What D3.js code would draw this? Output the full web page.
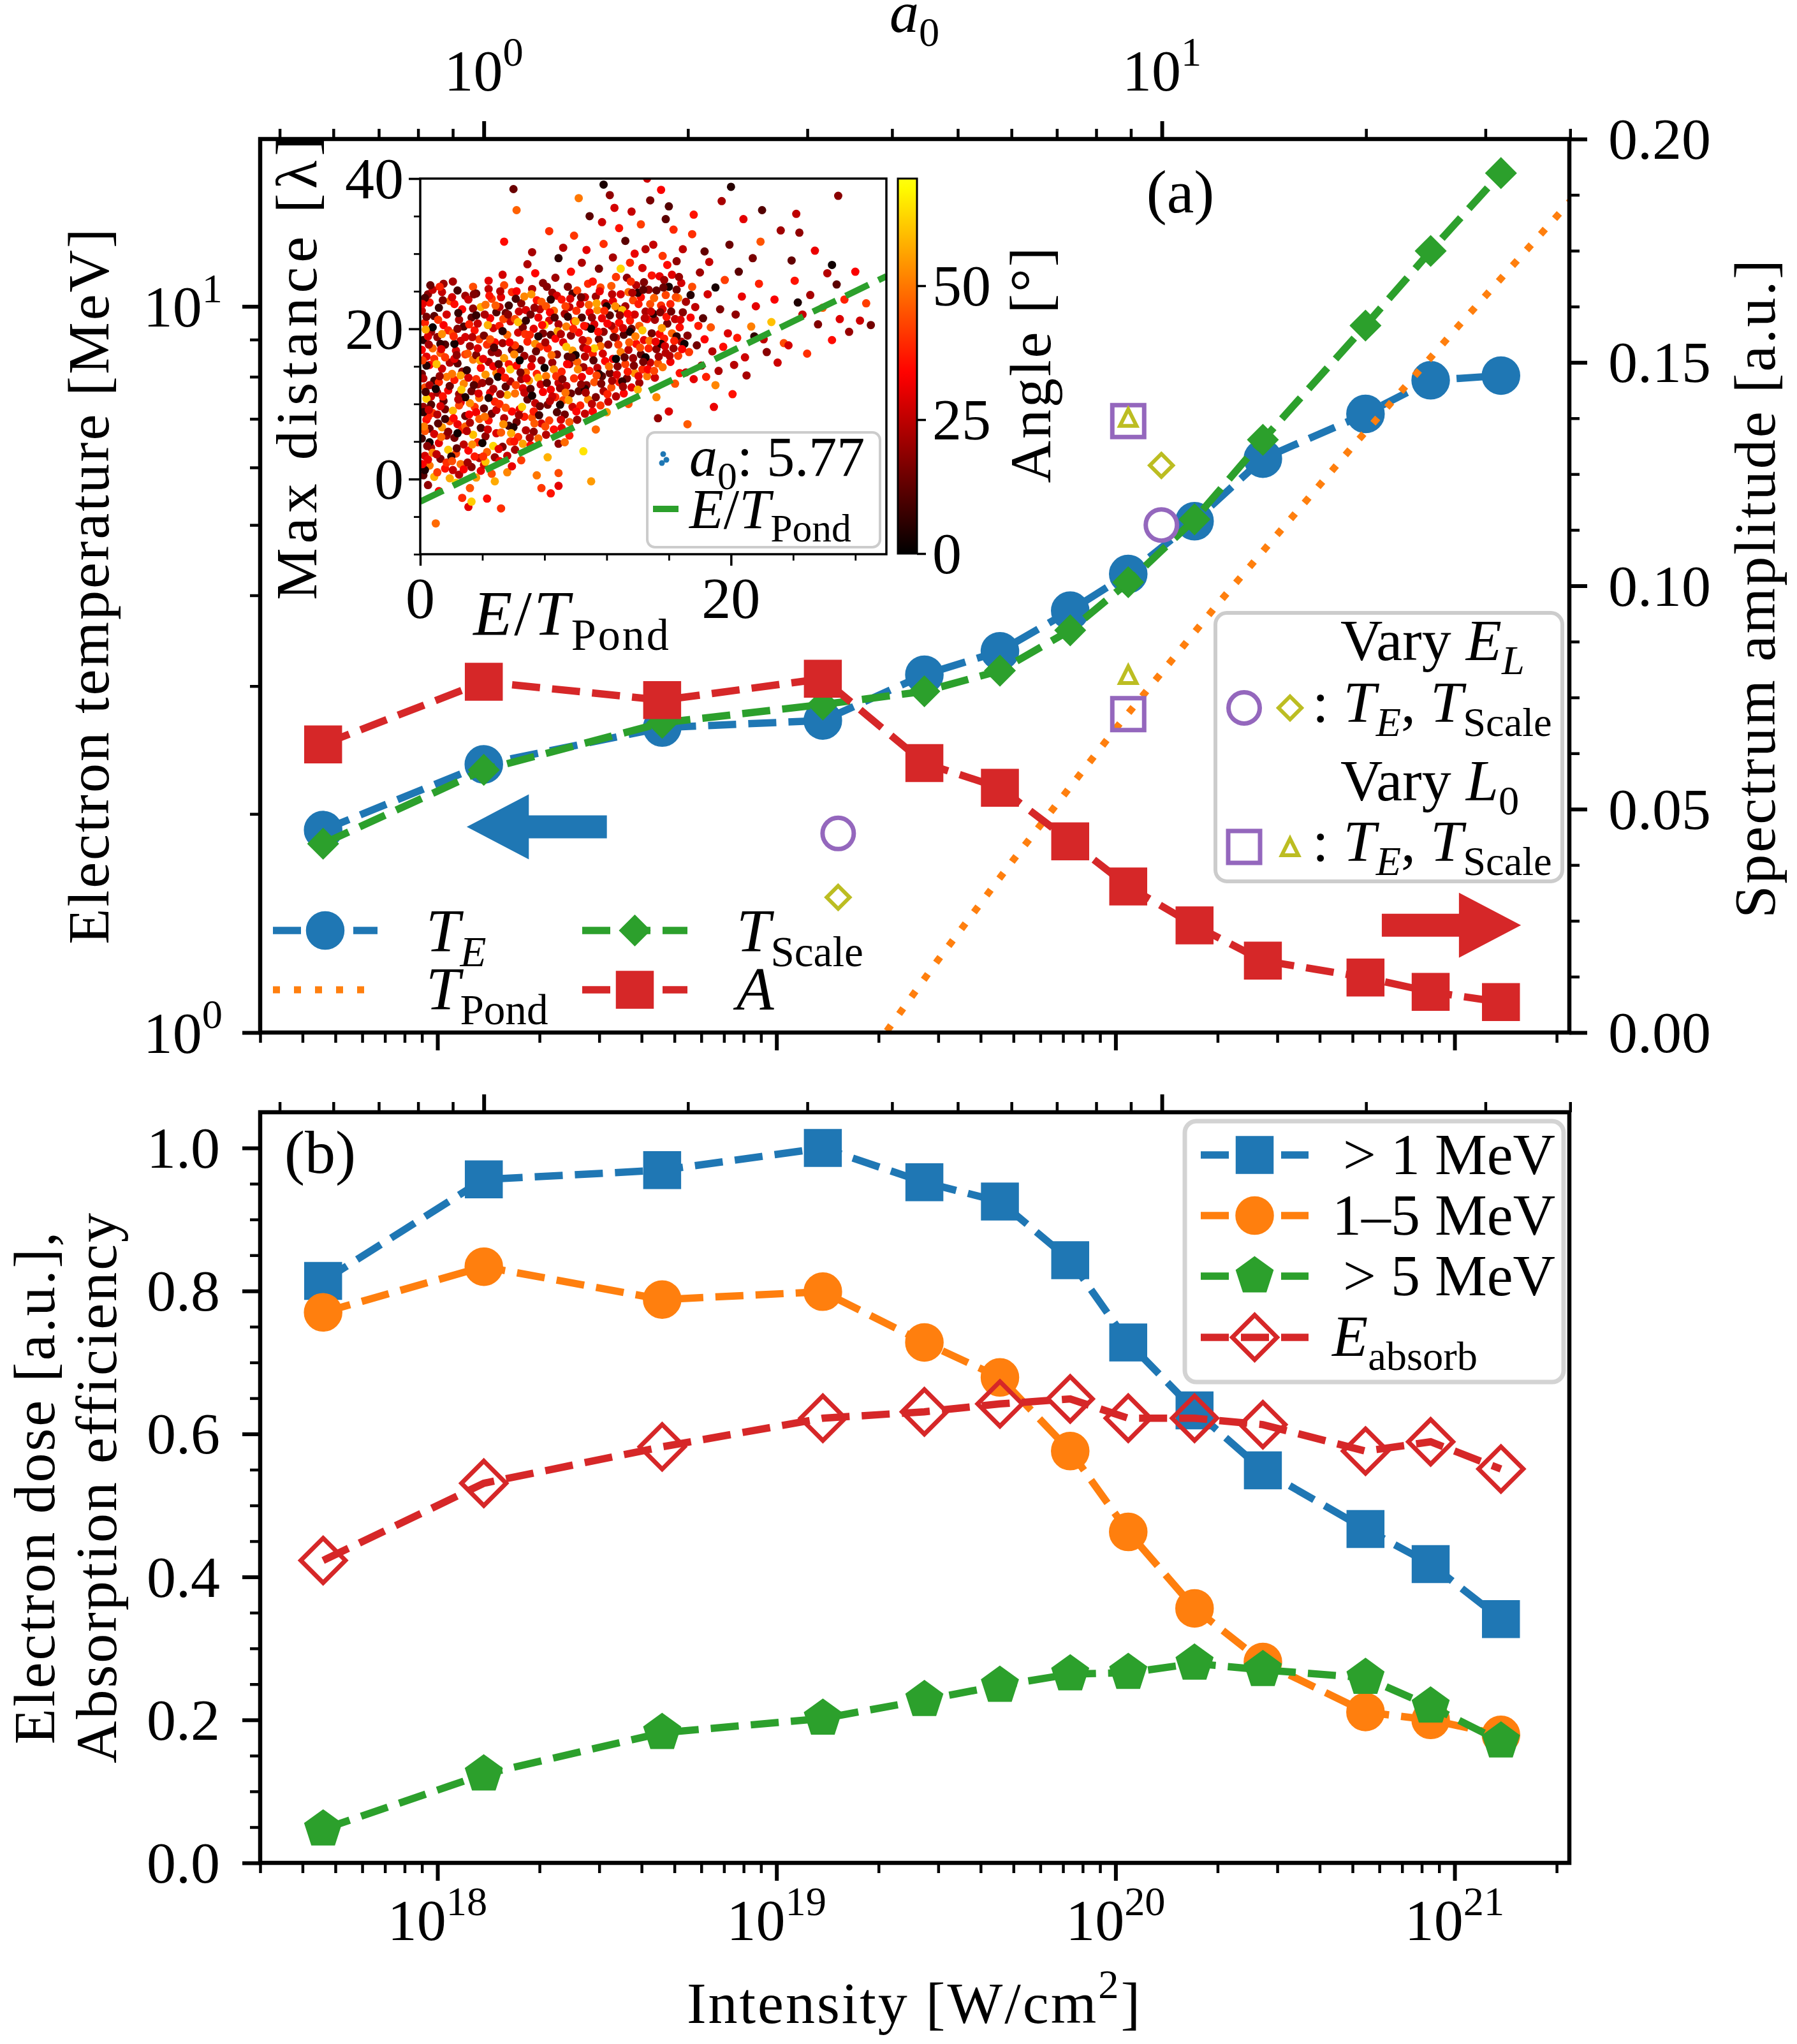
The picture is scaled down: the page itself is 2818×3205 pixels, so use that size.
<!DOCTYPE html>
<html>
<head>
<meta charset="utf-8">
<script src="https://cdn.jsdelivr.net/npm/d3@7"></script>
<style>
html,body{margin:0;padding:0;background:#fff;}
svg{display:block;}
text{font-family:"Liberation Serif","Times New Roman",serif;fill:#000;}
</style>
</head>
<body>
<svg id="fig" width="2818" height="3205" xmlns="http://www.w3.org/2000/svg"></svg>
<script>
// ================= DATA =================
const intensity   = [4.6e17, 1.37e18, 4.6e18, 1.37e19, 2.73e19, 4.56e19, 7.35e19, 1.09e20, 1.71e20, 2.72e20, 5.46e20, 8.5e20, 1.37e21];
const tempTE      = [1.90, 2.34, 2.63, 2.69, 3.11, 3.35, 3.81, 4.28, 5.06, 6.17, 7.11, 7.91, 8.03];
const tempTScale  = [1.82, 2.30, 2.67, 2.83, 2.95, 3.15, 3.58, 4.17, 5.09, 6.55, 9.41, 11.92, 15.26];
const spectrumA   = [0.0645, 0.0785, 0.0744, 0.0792, 0.0603, 0.0548, 0.0428, 0.0327, 0.0240, 0.0161, 0.0123, 0.0091, 0.0068];
const pondIntensity = [1.8e19, 2.1e19, 3e19, 5e19, 1e20, 2e20, 5e20, 1e21, 2.2e21];
const pondT         = [0.90, 1.00, 1.26, 1.73, 2.62, 3.89, 6.41, 9.27, 13.98];
const varyELIntensity = [1.52e19, 1.365e20];
const varyELTE        = [1.88, 5.00];
const varyELTScale    = [1.535, 6.04];
const varyL0Intensity = [1.09e20, 1.09e20];
const varyL0TE        = [2.745, 6.95];
const varyL0TScale    = [3.11, 7.03];

const doseAbove1 = [0.814, 0.956, 0.969, 1.000, 0.952, 0.925, 0.843, 0.728, 0.633, 0.549, 0.467, 0.418, 0.341];
const dose1to5   = [0.770, 0.834, 0.788, 0.799, 0.728, 0.679, 0.576, 0.463, 0.356, 0.281, 0.211, 0.200, 0.179];
const doseAbove5 = [0.047, 0.124, 0.182, 0.202, 0.228, 0.248, 0.264, 0.266, 0.279, 0.270, 0.259, 0.219, 0.170];
const eAbsorb    = [0.423, 0.531, 0.582, 0.622, 0.631, 0.642, 0.649, 0.622, 0.622, 0.613, 0.576, 0.589, 0.551];

// arrows (intensity, temperature)
const arrowLeft  = {tip: 1.22e18, base: 1.86e18, tail: 3.16e18, T: 1.92};
const arrowRight = {tip: 1.57e21, base: 1.03e21, tail: 6.1e20, T: 1.405};

// inset: [E/T_pond, max distance, angle]
const insetPoints = [
[0.2,0.5,12],[0.3,3.1,28],[0.1,5.4,8],[0.4,7.9,35],[0.2,9.6,20],[0.3,12.2,44],[0.1,14.0,15],[0.4,16.3,30],[0.2,18.5,6],[0.3,20.8,38],[0.1,22.4,25],[0.5,24.6,18],[0.6,1.8,50],[0.7,4.2,22],[0.6,6.7,14],[0.8,8.8,41],[0.7,11.0,27],[0.9,13.1,9],[0.6,15.2,33],[0.8,17.4,48],[0.7,19.6,21],[0.9,21.7,12],[0.6,23.5,36],[0.8,25.2,26],[0.5,-0.8,19],[0.9,0.3,58],[0.4,10.7,62],[0.2,13.4,24],[0.5,2.6,31],[0.3,6.4,45],[0.7,9.9,11],[0.5,19.0,29],[0.9,16.0,40],[0.4,21.6,16],[0.1,17.2,34],[0.8,3.5,52],[0.6,12.5,23],[0.3,24.1,10],[0.5,8.3,37],[0.9,6.0,28],
[1.1,0.9,42],[1.3,2.7,17],[1.2,4.8,30],[1.4,6.9,55],[1.1,8.6,24],[1.5,10.4,13],[1.2,12.9,39],[1.4,14.7,27],[1.3,16.8,46],[1.1,18.9,19],[1.5,20.5,33],[1.2,22.8,8],[1.4,24.9,26],[1.6,1.4,36],[1.8,3.9,61],[1.7,5.8,21],[1.9,7.7,44],[1.6,9.3,15],[1.8,11.8,32],[1.7,13.6,50],[1.9,15.5,23],[1.6,17.9,11],[1.8,19.8,38],[1.7,21.9,28],[1.9,23.7,47],[1.5,26.0,20],[1.2,-1.6,34],[1.9,0.1,57],[1.3,9.7,29],[1.6,16.2,41],[1.8,6.3,18],[1.4,19.3,53],[1.1,11.5,22],[1.7,2.2,40],[1.9,12.4,14],[1.0,-5.9,48],
[2.1,1.2,26],[2.3,3.4,43],[2.2,5.5,16],[2.4,7.3,31],[2.1,9.1,59],[2.5,11.3,20],[2.2,13.2,37],[2.4,15.4,12],[2.3,17.1,28],[2.1,19.4,45],[2.5,21.2,23],[2.2,23.3,35],[2.4,25.1,9],[2.6,2.0,49],[2.8,4.6,25],[2.7,6.6,38],[2.9,8.4,14],[2.6,10.2,30],[2.8,12.7,52],[2.7,14.3,19],[2.9,16.6,42],[2.6,18.4,27],[2.8,20.3,10],[2.7,22.6,34],[2.9,24.4,21],[2.3,-0.5,63],[2.7,-2.5,39],[2.5,0.6,24],[2.9,7.0,47],[2.2,16.0,30],[2.6,13.8,56],[2.4,20.0,17],[2.8,1.3,33],[2.1,26.3,22],[2.5,9.8,43],[2.9,18.9,28],
[3.1,-3.7,30],[3.2,-1.2,45],[3.3,1.6,18],[3.1,3.8,34],[3.4,5.9,60],[3.2,7.5,23],[3.5,9.6,41],[3.3,11.7,15],[3.1,13.5,28],[3.4,15.9,50],[3.2,17.7,20],[3.5,19.8,36],[3.3,21.5,12],[3.1,23.9,27],[3.4,25.6,44],[3.6,0.2,55],[3.8,2.8,25],[3.7,4.9,39],[3.9,6.8,11],[3.6,8.9,32],[3.8,10.8,48],[3.7,12.6,21],[3.9,14.8,35],[3.6,16.5,17],[3.8,18.6,42],[3.7,20.7,26],[3.9,22.9,58],[3.6,24.7,14],[3.3,-3.0,62],[3.5,3.0,37],[3.7,17.4,29],[3.2,10.1,53],[3.9,1.1,31],[3.4,22.7,19],[3.8,8.0,46],[3.0,6.4,24],[3.6,13.3,40],
[4.1,1.9,28],[4.3,3.6,47],[4.2,5.7,19],[4.4,7.8,36],[4.1,9.4,13],[4.5,11.5,31],[4.2,13.9,54],[4.4,15.6,22],[4.3,17.9,40],[4.1,19.1,16],[4.5,21.4,33],[4.2,23.2,49],[4.4,25.3,25],[4.6,0.7,44],[4.8,2.9,20],[4.7,4.4,63],[4.9,6.1,29],[4.6,8.7,15],[4.8,10.3,38],[4.7,12.0,24],[4.9,14.1,51],[4.6,16.9,18],[4.8,18.2,35],[4.7,20.1,27],[4.9,22.2,11],[4.6,24.0,42],[4.3,-2.6,35],[4.8,-0.3,57],[4.4,26.4,30],[4.0,12.8,21],[4.5,18.6,45],[4.9,9.2,26],[4.2,2.3,60],[4.7,15.0,32],
[5.1,2.4,33],[5.3,4.3,17],[5.2,6.2,46],[5.4,8.1,24],[5.1,10.0,39],[5.5,12.3,12],[5.2,14.4,29],[5.4,16.1,55],[5.3,18.1,21],[5.1,20.4,37],[5.5,22.1,14],[5.2,24.2,30],[5.4,25.8,43],[5.6,3.1,26],[5.8,5.0,41],[5.7,7.1,10],[5.9,9.0,34],[5.6,11.2,58],[5.8,13.0,23],[5.7,15.3,36],[5.9,17.2,16],[5.6,19.2,48],[5.8,21.0,27],[5.7,23.1,9],[5.9,24.9,39],[5.2,-3.9,40],[5.6,0.9,52],[5.4,31.6,35],[5.3,27.2,28],[5.8,14.6,61],[5.0,16.8,20],[5.5,9.5,45],[5.9,1.7,31],[5.1,22.9,25],
[6.1,3.9,22],[6.3,5.6,40],[6.2,7.6,15],[6.4,9.3,31],[6.1,11.4,49],[6.5,13.3,20],[6.2,15.1,35],[6.4,17.3,11],[6.3,19.5,28],[6.1,21.3,44],[6.5,23.4,19],[6.2,25.0,33],[6.6,4.7,56],[6.8,6.5,24],[6.7,8.3,37],[6.9,10.6,13],[6.6,12.1,30],[6.8,14.2,47],[6.7,16.4,21],[6.9,18.3,38],[6.6,20.2,16],[6.8,22.5,29],[6.7,24.3,52],[6.5,2.5,42],[6.4,26.5,27],[6.9,28.6,23],[6.2,35.8,47],[6.0,38.6,14],[6.3,20.9,60],[6.7,11.5,26],[6.1,17.8,41],
[7.1,4.5,35],[7.3,6.3,19],[7.2,8.2,45],[7.4,10.1,26],[7.1,12.0,12],[7.5,14.0,38],[7.2,16.0,23],[7.4,18.0,53],[7.3,20.0,30],[7.1,21.9,15],[7.5,23.8,36],[7.2,25.3,24],[7.6,5.4,48],[7.8,7.4,28],[7.7,9.7,14],[7.9,11.6,33],[7.6,13.5,59],[7.8,15.8,20],[7.7,17.6,40],[7.9,19.4,17],[7.6,21.5,31],[7.8,23.6,46],[7.5,0.5,50],[7.8,-1.2,41],[7.2,30.2,22],[7.4,27.4,34],[7.9,26.1,18],[7.0,13.1,55],[7.7,22.6,25],[7.3,9.0,37],
[8.1,5.9,24],[8.3,7.8,42],[8.2,9.9,16],[8.4,11.9,32],[8.1,13.7,50],[8.5,15.5,21],[8.2,17.4,37],[8.4,19.2,13],[8.3,21.1,29],[8.1,23.0,45],[8.5,24.8,20],[8.6,6.6,35],[8.8,8.9,11],[8.7,10.9,39],[8.9,12.8,26],[8.6,14.6,54],[8.8,16.6,18],[8.7,18.7,34],[8.9,20.6,23],[8.6,22.4,48],[8.8,24.4,28],[8.2,2.9,58],[8.9,0.8,44],[8.4,-1.9,36],[8.9,-0.9,30],[8.7,26.8,21],[8.3,33.0,40],[8.0,20.5,62],[8.5,11.0,27],[8.9,4.7,19],
[9.1,6.8,31],[9.3,8.6,15],[9.2,10.5,43],[9.4,12.4,25],[9.1,14.3,38],[9.5,16.3,12],[9.2,18.2,29],[9.4,20.3,51],[9.3,22.0,22],[9.1,23.9,36],[9.5,25.6,17],[9.6,7.6,46],[9.8,9.6,27],[9.7,11.4,14],[9.9,13.4,40],[9.6,15.3,23],[9.8,17.1,55],[9.7,19.1,19],[9.9,21.0,33],[9.6,22.9,26],[9.8,24.7,10],[9.3,4.9,48],[9.7,27.6,35],[9.2,30.8,24],[9.9,32.4,41],[9.4,17.6,60],[9.0,12.1,20],[9.6,5.8,37],
[10.1,7.9,20],[10.3,9.8,38],[10.2,11.7,13],[10.4,13.6,31],[10.1,15.6,47],[10.5,17.5,22],[10.2,19.5,35],[10.4,21.5,11],[10.3,23.3,28],[10.1,25.1,42],[10.6,8.7,26],[10.8,10.6,52],[10.7,12.5,18],[10.9,14.4,36],[10.6,16.3,24],[10.8,18.4,44],[10.7,20.3,15],[10.9,22.2,32],[10.6,24.2,27],[10.8,26.0,39],[10.5,3.7,65],[10.4,28.8,23],[10.9,35.0,12],[10.2,37.4,50],[10.7,30.5,30],[10.0,21.0,57],[10.5,14.9,21],
[11.1,9.0,33],[11.3,10.9,17],[11.2,12.9,45],[11.4,14.8,25],[11.1,16.7,38],[11.5,18.6,14],[11.2,20.6,29],[11.4,22.5,53],[11.3,24.3,21],[11.1,26.3,36],[11.6,9.8,41],[11.8,11.7,23],[11.7,13.7,12],[11.9,15.7,34],[11.6,17.7,49],[11.8,19.6,19],[11.7,21.4,31],[11.9,23.4,26],[11.6,25.5,44],[11.5,28.0,16],[11.8,31.3,40],[11.3,6.6,48],[11.0,-0.3,55],[11.7,34.2,27],[11.2,17.4,62],
[12.1,10.3,27],[12.3,12.2,44],[12.2,14.1,15],[12.4,16.0,32],[12.1,17.9,20],[12.5,19.9,39],[12.2,21.8,12],[12.4,23.7,30],[12.3,25.7,46],[12.6,11.0,24],[12.8,12.9,37],[12.7,15.0,18],[12.9,16.9,51],[12.6,18.8,26],[12.8,20.8,35],[12.7,22.7,13],[12.9,24.6,29],[12.6,26.9,41],[12.4,29.5,22],[12.8,33.4,36],[12.2,37.8,19],[12.0,8.9,54],[12.5,36.1,28],[12.9,28.0,63],[12.3,20.4,23],
[13.1,11.4,34],[13.3,13.4,16],[13.2,15.3,42],[13.4,17.2,25],[13.1,19.2,11],[13.5,21.1,37],[13.2,23.0,22],[13.4,24.9,48],[13.3,26.8,19],[13.6,12.2,30],[13.8,14.1,53],[13.7,16.1,21],[13.9,18.0,35],[13.6,20.0,14],[13.8,21.9,28],[13.7,23.8,43],[13.9,25.8,24],[13.5,28.8,39],[13.2,31.7,12],[13.8,30.0,31],[13.4,10.0,45],[13.0,22.5,60],[13.6,35.6,26],
[14.1,12.8,21],[14.3,14.6,39],[14.2,16.6,13],[14.4,18.5,30],[14.1,20.4,46],[14.5,22.3,23],[14.2,24.2,35],[14.4,26.2,17],[14.3,28.1,28],[14.6,13.7,50],[14.8,15.5,26],[14.7,17.4,38],[14.9,19.4,15],[14.6,21.3,32],[14.8,23.3,44],[14.7,25.2,20],[14.9,27.1,36],[14.5,30.6,24],[14.2,33.9,42],[14.8,37.1,16],[14.0,11.9,58],[14.6,40.0,27],[14.3,19.8,61],
[15.1,13.5,27],[15.3,15.4,45],[15.2,17.3,18],[15.4,19.3,34],[15.1,21.2,22],[15.5,23.1,40],[15.2,25.1,13],[15.4,27.0,31],[15.6,14.9,49],[15.8,16.8,24],[15.7,18.7,37],[15.9,20.7,16],[15.6,22.6,29],[15.8,24.5,43],[15.7,26.5,21],[15.9,28.5,35],[15.3,8.1,19],[15.5,38.5,33],[15.0,31.2,26],[15.8,34.6,12],[15.2,10.9,52],[15.6,29.7,41],
[16.1,15.6,32],[16.3,17.4,20],[16.2,19.4,47],[16.4,21.3,26],[16.1,23.3,38],[16.5,25.2,14],[16.2,27.2,30],[16.6,16.4,42],[16.8,18.3,23],[16.7,20.2,35],[16.9,22.2,18],[16.6,24.1,51],[16.8,26.1,28],[16.7,14.1,36],[16.4,12.7,45],[16.0,36.3,11],[16.9,30.6,25],[16.3,33.2,39],[16.5,29.0,19],[16.0,9.0,29],
[17.1,14.2,27],[17.3,16.9,41],[17.2,19.1,18],[17.4,21.5,33],[17.1,23.6,22],[17.5,25.6,44],[17.6,13.3,30],[17.8,17.8,15],[17.9,20.4,37],[17.7,22.9,25],[17.2,7.3,46],[18.1,15.1,20],[18.3,18.6,34],[18.2,21.4,12],[18.5,24.6,28],[18.4,13.6,38],[18.8,17.0,24],[18.7,20.2,45],[18.9,9.6,31],[18.0,27.5,21],[18.3,30.3,13],[17.6,35.2,36],[18.6,28.9,26],[17.5,32.6,40],
[19.2,14.4,23],[19.5,17.6,35],[19.3,22.6,17],[19.8,19.4,29],[19.6,26.5,42],[19.9,31.2,14],[20.2,15.2,24],[20.4,18.8,37],[20.3,21.9,19],[20.7,24.3,31],[20.5,27.6,12],[20.9,16.2,27],[21.0,13.8,22],[21.3,20.3,51],[21.6,23.0,30],[21.4,29.4,16],[21.8,26.0,38],[22.1,18.6,25],[22.3,16.9,18],[22.6,20.9,60],[22.8,23.9,33],[23.0,15.5,27],[23.2,33.1,21],[23.4,18.1,44],[23.7,17.8,28],[23.9,29.1,13],[24.1,26.4,36],[24.4,32.8,19],[24.6,21.9,26],[24.9,16.7,40],[25.1,24.5,22],[25.4,30.4,31],[25.6,20.6,17],[25.9,22.8,46],[26.2,27.4,24],[26.5,18.5,35],[26.8,25.9,12],[27.0,21.3,29],[27.3,23.9,38],[27.6,19.6,20],[28.0,27.6,33],[28.3,21.1,27],[28.7,23.4,42],[29.0,20.5,15],[26.9,37.7,18],[24.2,35.3,25],[22.0,35.8,11],[20.8,34.6,30],[19.4,37.0,22],[21.9,31.6,45],[19.0,12.5,52],[20.1,11.3,36],
[0.3,1.2,4],[0.6,4.9,2],[0.2,8.9,6],[1.0,12.0,3],[0.4,15.1,5],[1.3,18.0,7],[0.8,20.2,1],[2.0,3.0,5],[2.4,6.1,2],[1.6,8.0,8],[2.9,10.9,4],[3.0,14.5,6],[2.2,18.0,3],[3.6,21.8,7],[4.0,4.8,2],[4.4,10.8,5],[5.0,13.6,3],[5.3,19.7,6],[6.0,6.9,4],[6.4,15.8,1],[6.8,21.1,7],[7.2,11.1,3],[7.6,19.0,5],[8.0,14.8,2],[8.4,23.9,6],[9.0,9.9,4],[9.5,21.6,7],[10.0,16.5,3],[10.6,12.0,5],[11.0,20.0,2],[11.5,14.0,6],[12.0,23.0,4],[12.6,16.0,1],[13.0,13.0,7],[13.5,19.6,3],[14.0,24.8,5],[14.5,16.2,2],[15.0,22.0,6],[15.5,18.0,4],[16.0,25.6,3],[16.5,19.0,7],[17.0,18.0,2],[17.4,24.5,5],[19.0,25.5,3],[21.5,19.0,6],[24.3,23.5,4],[26.5,28.5,2],[20.0,38.9,5],[11.8,39.2,3],[8.9,29.4,6],
[0.15,2.0,33],[0.45,4.4,18],[0.25,7.0,51],[0.55,9.2,27],[0.35,11.6,9],[0.15,15.8,42],[0.55,17.9,22],[0.35,19.9,57],[0.15,23.3,30],[0.65,25.8,14],
[1.05,3.3,25],[1.35,5.6,48],[1.15,7.4,12],[1.45,11.0,36],[1.25,13.7,20],[1.05,15.3,60],[1.35,17.3,29],[1.15,21.2,41],[1.45,23.8,16],[1.25,25.6,38],
[2.05,2.4,44],[2.35,4.1,13],[2.15,8.1,35],[2.45,10.6,24],[2.05,14.0,50],[2.35,16.5,19],[2.15,19.0,39],[2.45,22.1,7],[2.05,24.2,28],[2.65,11.9,61],
[3.05,2.2,21],[3.35,4.6,53],[3.15,8.6,33],[3.45,12.5,11],[3.05,16.7,45],[3.35,18.9,24],[3.15,20.6,38],[3.45,24.6,17],[3.75,11.4,29],[3.85,15.8,56],
[4.05,3.0,40],[4.35,6.6,27],[4.15,8.3,49],[4.45,13.0,14],[4.05,16.0,31],[4.35,20.5,58],[4.15,21.9,23],[4.45,24.4,36],[4.75,17.5,10],[4.85,23.1,46],
[5.05,4.0,30],[5.35,7.3,53],[5.15,11.3,20],[5.45,13.5,37],[5.05,15.3,12],[5.35,21.3,43],[5.15,25.0,24],[5.75,18.2,33],[5.85,6.1,57],[5.65,21.9,18],
[6.05,5.0,36],[6.35,8.5,21],[6.15,12.5,43],[6.45,14.2,16],[6.05,16.6,52],[6.35,22.3,27],[6.15,24.0,10],[6.75,19.3,40],[6.85,13.4,30],[6.55,9.6,62],
[7.05,5.5,23],[7.35,7.4,46],[7.15,15.0,31],[7.45,17.0,14],[7.05,19.2,39],[7.35,22.8,20],[7.15,24.6,54],[7.75,12.6,27],[7.85,20.5,35],[7.65,8.5,9],
[8.05,7.0,44],[8.35,10.4,25],[8.15,12.8,13],[8.45,16.5,48],[8.05,18.2,22],[8.35,22.2,34],[8.15,25.6,18],[8.75,13.7,40],[8.85,19.7,56],[8.65,21.5,11],
[9.05,7.9,28],[9.35,11.5,49],[9.15,13.3,17],[9.45,15.3,33],[9.05,19.3,24],[9.35,23.0,42],[9.75,16.2,13],[9.85,20.0,38],[9.65,24.0,29],[9.55,10.5,55],
[10.05,9.0,34],[10.35,12.6,19],[10.15,14.6,52],[10.45,18.5,26],[10.05,22.4,40],[10.35,24.2,15],[10.75,17.3,31],[10.85,23.2,47],[10.65,11.5,22],[10.55,20.4,36],
[11.05,10.0,25],[11.35,13.8,43],[11.15,15.8,12],[11.45,19.6,35],[11.05,21.5,20],[11.35,23.4,56],[11.75,16.7,28],[11.85,22.4,39],[11.65,12.7,17],[11.55,25.0,31],
[12.05,11.3,38],[12.35,13.1,22],[12.15,15.0,48],[12.45,18.9,14],[12.05,20.7,33],[12.35,24.6,25],[12.75,17.9,42],[12.85,21.8,19],[12.65,13.9,29],[12.55,23.0,53],
[13.05,12.3,21],[13.35,14.3,37],[13.15,16.2,13],[13.45,18.2,46],[13.05,20.1,28],[13.35,22.0,34],[13.75,15.1,17],[13.85,19.0,51],[13.65,24.8,23],[13.55,26.3,40],
[14.05,13.7,30],[14.35,15.6,16],[14.15,17.5,44],[14.45,21.4,25],[14.05,23.3,37],[14.35,25.2,12],[14.75,18.4,49],[14.85,22.3,27],[14.65,14.6,33],
[15.05,14.4,43],[15.35,16.3,22],[15.15,18.3,31],[15.45,22.2,17],[15.05,24.1,47],[15.75,17.7,28],[15.85,21.6,36],[15.65,25.5,14],[15.55,20.1,55],
[16.05,16.4,24],[16.35,18.4,38],[16.15,22.3,15],[16.45,24.2,44],[16.75,21.2,29],[16.85,17.3,33],[16.65,26.9,20]
];
const insetFitE    = [0, 30];
const insetFitDist = [-3, 27];
const insetA0 = "5.77";

// tick definitions
const I_A0 = 1.37e18;                       // intensity at a0 = 1 (lambda = 1 um)
const intensityMajor = [1e18, 1e19, 1e20, 1e21];
const intensityExp   = ["18", "19", "20", "21"];
const a0Major = [1, 10];
const a0Exp   = ["0", "1"];
const tempMajor = [1, 10];
const tempExp   = ["0", "1"];
const ampTicks  = [0, 0.05, 0.10, 0.15, 0.20];
const ampLabels = ["0.00", "0.05", "0.10", "0.15", "0.20"];
const doseTicks  = [0, 0.2, 0.4, 0.6, 0.8, 1.0];
const doseLabels = ["0.0", "0.2", "0.4", "0.6", "0.8", "1.0"];
const insetXTicks = [0, 20];
const insetYTicks = [0, 20, 40];
const cbarTicks = [0, 25, 50];

// ================= LAYOUT =================
const L = 408, R = 2461, TA = 218, BA = 1619, TB = 1744, BB = 2921;
const FS = 92;
const C = {blue:"#1f77b4", orange:"#ff7f0e", green:"#2ca02c", red:"#d62728", purple:"#9467bd", olive:"#bcbd22"};

const svg = d3.select("#fig");
svg.append("rect").attr("width", 2818).attr("height", 3205).attr("fill", "#fff");

const x   = d3.scaleLog().domain([3.0e17, 2.18e21]).range([L, R]);
const xA0 = d3.scaleLog().domain(x.domain().map(v => Math.sqrt(v / I_A0))).range([L, R]);
const yT  = d3.scaleLog().domain([1, 17]).range([BA, TA]);
const yA  = d3.scaleLinear().domain([0, 0.2]).range([BA, TA]);
const yD  = d3.scaleLinear().domain([0, 1.05]).range([BB, TB]);

const IL = 659, IR = 1390, IT = 280, IB = 869;
const ix = d3.scaleLinear().domain([0, 30]).range([IL, IR]);
const iy = d3.scaleLinear().domain([-10, 40]).range([IB, IT]);
const CBL = 1408, CBR = 1438;
const cy = d3.scaleLinear().domain([0, 70]).range([IB - 1, IT]);

function hot(t) {
  t = Math.max(0, Math.min(1, t)) * 0.76;
  const r = Math.min(1, t / 0.365);
  const g = Math.max(0, Math.min(1, (t - 0.365) / 0.381));
  const b = Math.max(0, Math.min(1, (t - 0.746) / 0.254));
  return d3.rgb(r * 255, g * 255, b * 255).formatHex();
}
const angleColor = d3.scaleSequential(hot).domain([0, 70]);

// ================= HELPERS =================
function mtext(parent, px, py, parts, o = {}) {
  const fs = o.size || FS;
  const t = parent.append("text").attr("x", px).attr("y", py)
    .attr("font-size", fs).attr("text-anchor", o.anchor || "start");
  if (o.ls) t.attr("letter-spacing", o.ls);
  if (o.rotate) t.attr("transform", `rotate(${o.rotate},${px},${py})`);
  let cur = 0;
  parts.forEach(([txt, st = ""]) => {
    const ts = t.append("tspan").text(txt);
    let target = 0;
    if (st.includes("sub")) target = fs * 0.24;
    else if (st.includes("sup")) target = -fs * 0.42;
    if (target !== cur) ts.attr("dy", target - cur);
    cur = target;
    if (target !== 0) ts.attr("font-size", fs * 0.7);
    if (st.startsWith("i")) ts.attr("font-style", "italic");
  });
  return t;
}

function tickSet(parent, axis, tx, ty, values, len, w) {
  const a = parent.append("g").attr("transform", `translate(${tx},${ty})`)
    .call(axis.tickValues(values).tickSize(len).tickSizeOuter(0).tickFormat(() => ""));
  a.select(".domain").remove();
  a.selectAll("text").remove();
  a.selectAll("line").attr("stroke", "#000").attr("stroke-width", w);
}

function logMinor(dom) {
  const out = [];
  const lo = Math.min(dom[0], dom[1]), hi = Math.max(dom[0], dom[1]);
  for (let e = Math.floor(Math.log10(lo)) - 1; e <= Math.ceil(Math.log10(hi)); e++) {
    for (let m = 2; m < 10; m++) {
      const v = m * Math.pow(10, e);
      if (v >= lo * 0.997 && v <= hi * 1.003) out.push(v);
    }
  }
  return out;
}

function markerPath(type, s) {
  if (type === "diamond") return `M0,${-s}L${s},0L0,${s}L${-s},0Z`;
  if (type === "square") return `M${-s},${-s}H${s}V${s}H${-s}Z`;
  if (type === "triangle") return `M0,${-s}L${s},${s}L${-s},${s}Z`;
  if (type === "pentagon") {
    const pts = d3.range(5).map(k => {
      const a = -Math.PI / 2 + k * 2 * Math.PI / 5;
      return [s * Math.cos(a), s * Math.sin(a)];
    });
    return "M" + pts.map(p => p.join(",")).join("L") + "Z";
  }
  return `M${s},0A${s},${s} 0 1,1 ${-s},0A${s},${s} 0 1,1 ${s},0Z`;
}

function drawMarker(g, type, cx, cyy, s, color, filled, sw) {
  g.append("path").attr("d", markerPath(type, s))
    .attr("transform", `translate(${cx},${cyy})`)
    .attr("fill", filled ? color : "none")
    .attr("stroke", color)
    .attr("stroke-width", filled ? 1.5 : sw);
}

function series(g, xs, ys, xsc, ysc, color, dash, type, size, filled, sw, lw = 11.5) {
  const line = d3.line().x((d, i) => xsc(xs[i])).y((d, i) => ysc(ys[i]));
  g.append("path").attr("d", line(xs)).attr("fill", "none")
    .attr("stroke", color).attr("stroke-width", lw).attr("stroke-dasharray", dash);
  if (type) xs.forEach((v, i) => drawMarker(g, type, xsc(v), ysc(ys[i]), size, color, filled, sw));
}

const DASH = "44,19";
const DOT = "11,22";
const defs = svg.append("defs");
defs.append("clipPath").attr("id", "clipA").append("rect")
  .attr("x", L).attr("y", TA).attr("width", R - L).attr("height", BA - TA);

// ================= PANEL (a) =================
const pa = svg.append("g");
series(pa, intensity, tempTE, x, yT, C.blue, DASH, "circle", 29.5, true);
series(pa, intensity, tempTScale, x, yT, C.green, DASH, "diamond", 24, true);
const pondG = pa.append("g").attr("clip-path", "url(#clipA)");
series(pondG, pondIntensity, pondT, x, yT, C.orange, DOT, null, 0, true, 0, 11);

varyELIntensity.forEach((v, i) => {
  drawMarker(pa, "circle", x(v), yT(varyELTE[i]), 24.5, C.purple, false, 7);
  drawMarker(pa, "diamond", x(v), yT(varyELTScale[i]), 18, C.olive, false, 6);
});
varyL0Intensity.forEach((v, i) => {
  drawMarker(pa, "square", x(v), yT(varyL0TE[i]), 25, C.purple, false, 7);
  drawMarker(pa, "triangle", x(v), yT(varyL0TScale[i]), 13, C.olive, false, 6);
});

function arrow(g, a, color) {
  const yc = yT(a.T), hh = 51, hs = 18;
  const pts = [[x(a.tail), yc - hs], [x(a.base), yc - hs], [x(a.base), yc - hh], [x(a.tip), yc],
               [x(a.base), yc + hh], [x(a.base), yc + hs], [x(a.tail), yc + hs]];
  g.append("path").attr("d", "M" + pts.map(p => p.join(",")).join("L") + "Z").attr("fill", color);
}
arrow(pa, arrowLeft, C.blue);
arrow(pa, arrowRight, C.red);

series(pa, intensity, spectrumA, x, yA, C.red, DASH, "square", 29, true);

pa.append("rect").attr("x", L).attr("y", TA).attr("width", R - L).attr("height", BA - TA)
  .attr("fill", "none").attr("stroke", "#000").attr("stroke-width", 6.5);
const MAJ = 28, MIN = 16, MAJW = 6, MINW = 4.5;
tickSet(pa, d3.axisBottom(x), 0, BA, intensityMajor, MAJ, MAJW);
tickSet(pa, d3.axisBottom(x), 0, BA, logMinor(x.domain()), MIN, MINW);
tickSet(pa, d3.axisTop(xA0), 0, TA, a0Major, MAJ, MAJW);
tickSet(pa, d3.axisTop(xA0), 0, TA, logMinor(xA0.domain()), MIN, MINW);
tickSet(pa, d3.axisLeft(yT), L, 0, tempMajor, MAJ, MAJW);
tickSet(pa, d3.axisLeft(yT), L, 0, logMinor(yT.domain()), MIN, MINW);
tickSet(pa, d3.axisRight(yA), R, 0, ampTicks, MAJ, MAJW);
tickSet(pa, d3.axisRight(yA), R, 0, d3.range(0, 16).map(k => k * 0.0125).filter(v => Math.abs(v / 0.05 - Math.round(v / 0.05)) > 1e-6), MIN, MINW);

a0Major.forEach((v, i) => mtext(pa, xA0(v), 142, [["10"], [a0Exp[i], "sup"]], {anchor: "middle"}));
tempMajor.forEach((v, i) => mtext(pa, 349, yT(v) + 32, [["10"], [tempExp[i], "sup"]], {anchor: "end"}));
ampTicks.forEach((v, i) => mtext(pa, 2522, yA(v) + 31, [[ampLabels[i]]]));

mtext(pa, 1434, 50, [["a", "i"], ["0", "sub"]], {anchor: "middle"});
mtext(pa, 170, 918, [["Electron temperature [MeV]"]], {anchor: "middle", rotate: -90, ls: 3});
mtext(pa, 2783, 922, [["Spectrum amplitude [a.u.]"]], {anchor: "middle", rotate: -90, ls: 3});
mtext(pa, 1851, 333, [["(a)"]], {anchor: "middle", size: 96});

const lg = pa.append("g");
function legendHandle(g, x0, x1, yy, color, dash, type, size, filled, sw, lw = 11.5) {
  g.append("line").attr("x1", x0).attr("x2", x1).attr("y1", yy).attr("y2", yy)
    .attr("stroke", color).attr("stroke-width", lw).attr("stroke-dasharray", dash);
  if (type) drawMarker(g, type, (x0 + x1) / 2, yy, size, color, filled, sw);
}
legendHandle(lg, 428, 592, 1459, C.blue, DASH, "circle", 29.5, true);
mtext(lg, 668, 1492, [["T", "i"], ["E", "isub"]], {size: 96});
legendHandle(lg, 913, 1078, 1459, C.green, DASH, "diamond", 24, true);
mtext(lg, 1155, 1492, [["T", "i"], ["Scale", "sub"]], {size: 96});
legendHandle(lg, 428, 575, 1552, C.orange, DOT, null, 0, true, 0, 11);
mtext(lg, 668, 1583, [["T", "i"], ["Pond", "sub"]], {size: 96});
legendHandle(lg, 913, 1078, 1552, C.red, DASH, "square", 29, true);
mtext(lg, 1155, 1583, [["A", "i"]], {size: 96});

const lv = pa.append("g");
lv.append("rect").attr("x", 1906).attr("y", 961).attr("width", 544).attr("height", 421).attr("rx", 18)
  .attr("fill", "#fff").attr("stroke", "#cccccc").attr("stroke-width", 6);
mtext(lv, 2102, 1035, [["Vary "], ["E", "i"], ["L", "isub"]], {size: 92});
drawMarker(lv, "circle", 1951, 1110, 24.5, C.purple, false, 7);
drawMarker(lv, "diamond", 2023, 1110, 18, C.olive, false, 6);
mtext(lv, 2058, 1132, [[": "], ["T", "i"], ["E", "isub"], [", "], ["T", "i"], ["Scale", "sub"]], {size: 92});
mtext(lv, 2102, 1255, [["Vary "], ["L", "i"], ["0", "sub"]], {size: 92});
drawMarker(lv, "square", 1951, 1328, 25, C.purple, false, 7);
drawMarker(lv, "triangle", 2023, 1328, 13, C.olive, false, 6);
mtext(lv, 2058, 1350, [[": "], ["T", "i"], ["E", "isub"], [", "], ["T", "i"], ["Scale", "sub"]], {size: 92});

// ================= INSET =================
const ins = svg.append("g");
ins.append("rect").attr("x", IL).attr("y", IT).attr("width", IR - IL).attr("height", IB - IT).attr("fill", "#fff");
defs.append("clipPath").attr("id", "clipI").append("rect")
  .attr("x", IL).attr("y", IT).attr("width", IR - IL).attr("height", IB - IT);
const insData = ins.append("g").attr("clip-path", "url(#clipI)");
insData.selectAll("circle.pt").data(insetPoints).enter().append("circle")
  .attr("cx", d => ix(d[0])).attr("cy", d => iy(d[1])).attr("r", 6.5)
  .attr("fill", d => angleColor(d[2]));
insData.append("line").attr("x1", ix(insetFitE[0])).attr("y1", iy(insetFitDist[0]))
  .attr("x2", ix(insetFitE[1])).attr("y2", iy(insetFitDist[1]))
  .attr("stroke", C.green).attr("stroke-width", 10).attr("stroke-dasharray", "40,17");
ins.append("rect").attr("x", IL).attr("y", IT).attr("width", IR - IL).attr("height", IB - IT)
  .attr("fill", "none").attr("stroke", "#000").attr("stroke-width", 3.5);
tickSet(ins, d3.axisBottom(ix), 0, IB, insetXTicks, 18, 3.5);
tickSet(ins, d3.axisBottom(ix), 0, IB, [4, 8, 12, 16, 24, 28], 10, 2.8);
tickSet(ins, d3.axisLeft(iy), IL, 0, insetYTicks, 18, 3.5);
tickSet(ins, d3.axisLeft(iy), IL, 0, [-10, -5, 5, 10, 15, 25, 30, 35], 10, 2.8);
insetXTicks.forEach(v => mtext(ins, ix(v), 969, [[String(v)]], {anchor: "middle"}));
insetYTicks.forEach(v => mtext(ins, 633, iy(v) + 31, [[String(v)]], {anchor: "end"}));
mtext(ins, 897, 995, [["E", "i"], ["/"], ["T", "i"], ["Pond", "sub"]], {anchor: "middle", size: 100, ls: 3});
mtext(ins, 496, 574, [["Max distance [λ]"]], {anchor: "middle", rotate: -90, ls: 7});

const il = ins.append("g");
il.append("rect").attr("x", 1015).attr("y", 678).attr("width", 365).attr("height", 180).attr("rx", 12)
  .attr("fill", "#fff").attr("stroke", "#cccccc").attr("stroke-width", 4);
[[1040, 712], [1045, 721], [1038, 726]].forEach(p =>
  il.append("circle").attr("cx", p[0]).attr("cy", p[1]).attr("r", 4.5).attr("fill", C.blue));
mtext(il, 1081, 746, [["a", "i"], ["0", "sub"], [": " + insetA0]], {size: 88});
il.append("line").attr("x1", 1024).attr("x2", 1064).attr("y1", 798).attr("y2", 798)
  .attr("stroke", C.green).attr("stroke-width", 10);
mtext(il, 1081, 828, [["E", "i"], ["/"], ["T", "i"], ["Pond", "sub"]], {size: 88});

const grad = defs.append("linearGradient").attr("id", "cbar").attr("x1", 0).attr("y1", 1).attr("x2", 0).attr("y2", 0);
d3.range(0, 71, 2).forEach(a => grad.append("stop").attr("offset", a / 70).attr("stop-color", angleColor(a)));
ins.append("rect").attr("x", CBL).attr("y", IT).attr("width", CBR - CBL).attr("height", IB - 1 - IT)
  .attr("fill", "url(#cbar)").attr("stroke", "#000").attr("stroke-width", 3);
tickSet(ins, d3.axisRight(cy), CBR, 0, cbarTicks, 14, 3.5);
cbarTicks.forEach(v => mtext(ins, 1462, cy(v) + 31, [[String(v)]]));
mtext(ins, 1647, 571, [["Angle [°]"]], {anchor: "middle", rotate: -90, ls: 3});

// ================= PANEL (b) =================
const pb = svg.append("g");
series(pb, intensity, doseAbove1, x, yD, C.blue, DASH, "square", 29, true);
series(pb, intensity, dose1to5, x, yD, C.orange, DASH, "circle", 29.5, true);
series(pb, intensity, doseAbove5, x, yD, C.green, DASH, "pentagon", 30.5, true);
series(pb, intensity, eAbsorb, x, yD, C.red, DASH, "diamond", 35, false, 7);

pb.append("rect").attr("x", L).attr("y", TB).attr("width", R - L).attr("height", BB - TB)
  .attr("fill", "none").attr("stroke", "#000").attr("stroke-width", 6.5);
tickSet(pb, d3.axisBottom(x), 0, BB, intensityMajor, MAJ, MAJW);
tickSet(pb, d3.axisBottom(x), 0, BB, logMinor(x.domain()), MIN, MINW);
tickSet(pb, d3.axisTop(xA0), 0, TB, a0Major, MAJ, MAJW);
tickSet(pb, d3.axisTop(xA0), 0, TB, logMinor(xA0.domain()), MIN, MINW);
tickSet(pb, d3.axisLeft(yD), L, 0, doseTicks, MAJ, MAJW);
tickSet(pb, d3.axisLeft(yD), L, 0, d3.range(1, 21).map(k => k * 0.05).filter(v => Math.abs(v / 0.2 - Math.round(v / 0.2)) > 1e-6), MIN, MINW);

intensityMajor.forEach((v, i) => mtext(pb, x(v), 3042, [["10"], [intensityExp[i], "sup"]], {anchor: "middle"}));
doseTicks.forEach((v, i) => mtext(pb, 345, yD(v) + 31, [[doseLabels[i]]], {anchor: "end"}));
mtext(pb, 1434, 3172, [["Intensity [W/cm"], ["2", "sup"], ["]"]], {anchor: "middle", ls: 3});
mtext(pb, 85, 2332, [["Electron dose [a.u.],"]], {anchor: "middle", rotate: -90, ls: 3});
mtext(pb, 182, 2332, [["Absorption efficiency"]], {anchor: "middle", rotate: -90, ls: 3});
mtext(pb, 502, 1839, [["(b)"]], {anchor: "middle", size: 96});

const lb = pb.append("g");
lb.append("rect").attr("x", 1858).attr("y", 1758).attr("width", 594).attr("height", 409).attr("rx", 18)
  .attr("fill", "#fff").attr("stroke", "#d3d3d3").attr("stroke-width", 7);
legendHandle(lb, 1883, 2052, 1811, C.blue, DASH, "square", 29, true);
mtext(lb, 2106, 1841, [["> 1 MeV"]], {size: 92});
legendHandle(lb, 1883, 2052, 1906, C.orange, DASH, "circle", 29.5, true);
mtext(lb, 2089, 1936, [["1–5 MeV"]], {size: 92});
legendHandle(lb, 1883, 2052, 2001, C.green, DASH, "pentagon", 30.5, true);
mtext(lb, 2106, 2031, [["> 5 MeV"]], {size: 92});
legendHandle(lb, 1883, 2052, 2097, C.red, DASH, "diamond", 35, false, 7);
mtext(lb, 2089, 2126, [["E", "i"], ["absorb", "sub"]], {size: 92});
</script>
</body>
</html>
